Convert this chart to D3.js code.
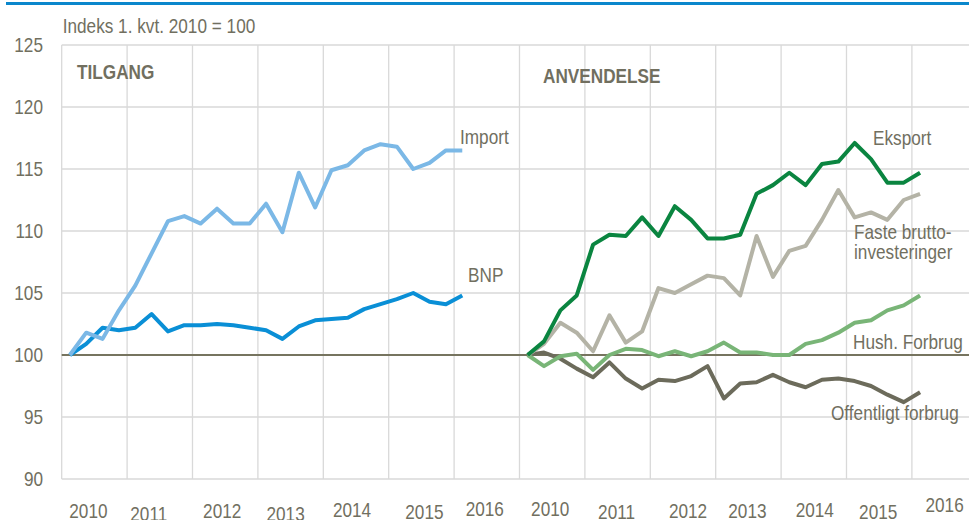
<!DOCTYPE html>
<html>
<head>
<meta charset="utf-8">
<script src="https://cdn.jsdelivr.net/npm/d3@7"></script>
<style>
  html, body { margin: 0; padding: 0; background: #fff; }
  svg { display: block; }
  text { font-family: "Liberation Sans Narrow", "Arial Narrow", "Liberation Sans", Arial, sans-serif; fill: #716f5f; }
</style>
</head>
<body>
<svg id="chart" width="969" height="520"></svg>
<script>
// ---------- DATA ----------
const years = [2010, 2011, 2012, 2013, 2014, 2015, 2016];
const quarters = ["K1", "K2", "K3", "K4"];
const yTicks = [90, 95, 100, 105, 110, 115, 120, 125];
const unitLabel = "Indeks 1. kvt. 2010 = 100";
const panelTitles = ["TILGANG", "ANVENDELSE"];

// 2010K1 .. 2016K1 (25 quarters)
const importValues = [100, 101.8, 101.3, 103.6, 105.6, 108.2, 110.8, 111.2, 110.6, 111.8, 110.6, 110.6, 112.2,
  109.9, 114.7, 111.9, 114.9, 115.3, 116.5, 117.0, 116.8, 115.0, 115.5, 116.5, 116.5];
const bnpValues = [100, 100.9, 102.2, 102.0, 102.2, 103.3, 101.9, 102.4, 102.4, 102.5, 102.4, 102.2, 102.0,
  101.3, 102.3, 102.8, 102.9, 103.0, 103.7, 104.1, 104.5, 105.0, 104.3, 104.1, 104.8];
const eksportValues = [100, 101.1, 103.6, 104.8, 108.9, 109.7, 109.6, 111.1, 109.6, 112.0, 110.9, 109.4, 109.4,
  109.7, 113.0, 113.7, 114.7, 113.7, 115.4, 115.6, 117.1, 115.8, 113.9, 113.9, 114.7];
const fasteValues = [100, 100.9, 102.6, 101.8, 100.3, 103.2, 101.0, 101.9, 105.4, 105.0, 105.7, 106.4, 106.2,
  104.8, 109.6, 106.3, 108.4, 108.8, 110.9, 113.3, 111.1, 111.5, 110.9, 112.5, 113.0];
const hushValues = [100, 99.1, 99.9, 100.1, 98.8, 100.0, 100.5, 100.4, 99.9, 100.3, 99.9, 100.3, 101.0,
  100.2, 100.2, 100.0, 100.0, 100.9, 101.2, 101.8, 102.6, 102.8, 103.6, 104.0, 104.8];
const offentligtValues = [100, 100.2, 99.7, 98.9, 98.2, 99.4, 98.1, 97.3, 98.0, 97.9, 98.3, 99.1, 96.5,
  97.7, 97.8, 98.4, 97.8, 97.4, 98.0, 98.1, 97.9, 97.5, 96.8, 96.2, 97.0];

const seriesNames = ["Import", "BNP", "Eksport", "Faste brutto-\ninvesteringer", "Hush. Forbrug", "Offentligt forbrug"];

// ---------- LAYOUT / STYLE ----------
const W = 969, H = 520;
const plot = { left: 61.7, right: 977.3, top: 45, bottom: 479 };
const colors = {
  text: "#716f5f", grid: "#d9d9d9", base: "#76745f", top: "#0a87cc",
  "Import": "#7bb8e6", "BNP": "#0a8fd6", "Eksport": "#0a8540",
  "Faste": "#b4b3a6", "Hush": "#79b577", "Off": "#6c6b5b"
};
const FS = 20;
// horizontal squeeze to emulate a narrow typeface
const SX = 0.86;
// label nudges (layout only)
const yearNudge = [
  [[-6, 518], [-11, 521], [-3, 518], [-5, 521], [-4, 517], [3, 519], [-2, 516]],
  [[-2, 516], [-1, 519], [5, 518], [-1, 518], [1, 517], [-1, 519], [0, 512]]
];

const svg = d3.select("#chart");

function addText(px, py, lines, opts = {}) {
  const t = svg.append("text")
    .attr("transform", `translate(${px},${py}) scale(${SX},1)`)
    .attr("font-size", opts.size || FS)
    .attr("text-anchor", opts.anchor || "start")
    .attr("font-weight", opts.weight || "normal");
  lines.forEach((s, j) => t.append("tspan").attr("x", 0).attr("dy", j === 0 ? 0 : (opts.lh || 20)).text(s));
  return t;
}

// Category axis: two panels, 28 quarters each (2010K1..2016K4)
const cats = [];
for (let p = 0; p < 2; p++) years.forEach(y => quarters.forEach(q => cats.push(p + ":" + y + q)));
const x = d3.scaleBand().domain(cats).range([plot.left, plot.right]).paddingInner(0).paddingOuter(0);
const y = d3.scaleLinear().domain([90, 125]).range([plot.bottom, plot.top]);

// top blue rule
svg.append("line").attr("x1", 6).attr("x2", W).attr("y1", 3.5).attr("y2", 3.5)
  .attr("stroke", colors.top).attr("stroke-width", 3);

// horizontal grid
svg.append("g").selectAll("line").data(yTicks.filter(t => t !== 100)).join("line")
  .attr("x1", plot.left).attr("x2", W)
  .attr("y1", d => y(d)).attr("y2", d => y(d))
  .attr("stroke", colors.grid).attr("stroke-width", 1.3);

// vertical grid at each year start
const vLines = cats.filter(c => c.endsWith("K1"));
svg.append("g").selectAll("line").data(vLines).join("line")
  .attr("x1", d => x(d)).attr("x2", d => x(d))
  .attr("y1", plot.top).attr("y2", plot.bottom)
  .attr("stroke", colors.grid).attr("stroke-width", 1.3);

// y-axis labels (scale-driven positions)
yTicks.forEach(t => addText(43, y(t) + 7, [String(t)], { anchor: "end" }));

// x year labels
[0, 1].forEach(p => {
  years.forEach((yr, i) => {
    const c0 = x(p + ":" + yr + "K1");
    const cx = c0 + 2 * x.bandwidth();
    addText(cx + yearNudge[p][i][0], yearNudge[p][i][1], [String(yr)], { anchor: "middle" });
  });
});

// baseline at 100
svg.append("line").attr("x1", plot.left).attr("x2", W).attr("y1", y(100)).attr("y2", y(100))
  .attr("stroke", colors.base).attr("stroke-width", 2);

// lines
const qCats = p => cats.filter(c => c.startsWith(p + ":"));
const line = d3.line().x(d => d[0]).y(d => y(d[1])).curve(d3.curveLinear);
function drawSeries(values, panel, color) {
  const cs = qCats(panel);
  const pts = values.map((v, i) => [x(cs[i]) + x.bandwidth() / 2, v]);
  svg.append("path").datum(pts).attr("d", line).attr("fill", "none")
    .attr("stroke", color).attr("stroke-width", 4).attr("stroke-linejoin", "round").attr("stroke-linecap", "butt");
}
drawSeries(bnpValues, 0, colors.BNP);
drawSeries(importValues, 0, colors.Import);
drawSeries(offentligtValues, 1, colors.Off);
drawSeries(hushValues, 1, colors.Hush);
drawSeries(fasteValues, 1, colors.Faste);
drawSeries(eksportValues, 1, colors.Eksport);

// texts
addText(62.7, 32.7, [unitLabel]);
addText(77, 79.3, [panelTitles[0]], { weight: "bold" });
addText(543, 82.7, [panelTitles[1]], { weight: "bold" });

const labelPos = [[460, 144], [468, 282], [873, 145], [854, 239], [853, 349], [831, 420]];
seriesNames.forEach((n, i) => addText(labelPos[i][0], labelPos[i][1], n.split("\n")));
</script>
</body>
</html>
